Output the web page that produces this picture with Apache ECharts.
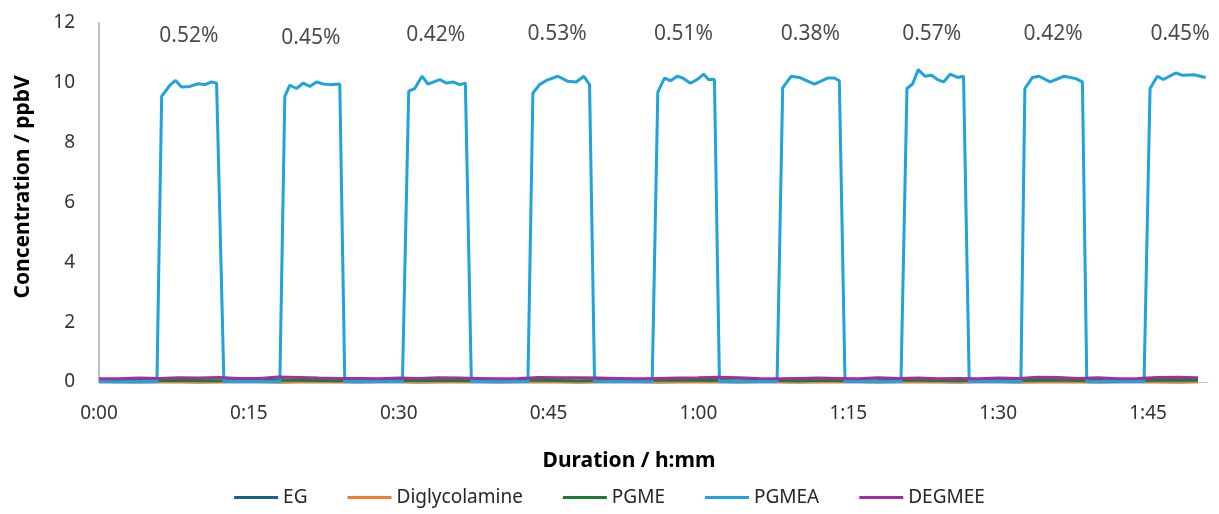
<!DOCTYPE html>
<html>
<head>
<meta charset="utf-8">
<script src="https://cdn.jsdelivr.net/npm/echarts@6/dist/echarts.min.js"></script>
<style>
  html, body { margin: 0; padding: 0; background: #fff; }
  #main { width: 1219px; height: 514px; }
</style>
</head>
<body>
<div id="main"></div>
<script>
// x values are minutes from start
const seriesNames = ['EG', 'Diglycolamine', 'PGME', 'PGMEA', 'DEGMEE']
const xTicks = [0, 15, 30, 45, 60, 75, 90, 105]
const yTicks = [0, 2, 4, 6, 8, 10, 12]

// PGMEA as [minute, ppbV]
const pgmeaPoints = [
  [0, 0.02], [2, 0.01], [4, 0.02], [5.8, 0.02],
  [6.27, 9.55], [7.1, 9.92], [7.67, 10.08], [8.27, 9.86], [9.1, 9.88], [9.93, 9.97], [10.6, 9.94], [11.27, 10.03], [11.77, 9.99], [12.5, 0.02],
  [15, 0.02], [18.1, 0.02],
  [18.6, 9.55], [19.1, 9.92], [19.77, 9.81], [20.43, 9.99], [21.1, 9.88], [21.77, 10.03], [22.43, 9.96], [23.1, 9.94], [24.1, 9.96], [24.6, 0.02],
  [28, 0.02], [30.37, 0.02],
  [31.0, 9.72], [31.6, 9.81], [32.33, 10.22], [32.93, 9.96], [34.1, 10.11], [34.77, 9.99], [35.43, 10.03], [36.1, 9.94], [36.67, 9.99], [37.27, 0.02],
  [40, 0.02], [42.93, 0.02],
  [43.43, 9.66], [44.1, 9.94], [44.77, 10.08], [45.93, 10.22], [46.93, 10.05], [47.77, 10.03], [48.53, 10.22], [49.1, 9.94], [49.6, 0.02],
  [52, 0.02], [55.37, 0.02],
  [55.93, 9.69], [56.6, 10.16], [57.2, 10.07], [57.87, 10.22], [58.43, 10.16], [59.2, 9.99], [59.87, 10.11], [60.53, 10.29], [61.0, 10.11], [61.6, 10.11], [62.1, 0.02],
  [65, 0.02], [67.87, 0.02],
  [68.43, 9.83], [69.27, 10.22], [70.1, 10.18], [71.6, 9.96], [72.93, 10.16], [73.6, 10.16], [74.1, 10.07], [74.67, 0.02],
  [78, 0.02], [80.27, 0.02],
  [80.87, 9.81], [81.43, 9.96], [82.0, 10.44], [82.67, 10.22], [83.33, 10.25], [83.93, 10.11], [84.53, 10.03], [85.2, 10.29], [85.93, 10.18], [86.53, 10.22], [87.1, 0.02],
  [90, 0.02], [92.27, 0.02],
  [92.67, 9.81], [93.43, 10.18], [94.1, 10.22], [95.2, 10.03], [96.6, 10.22], [97.77, 10.14], [98.43, 10.03], [98.87, 0.02],
  [102, 0.02], [104.6, 0.02],
  [105.2, 9.81], [105.93, 10.22], [106.53, 10.11], [107.77, 10.33], [108.43, 10.25], [109.6, 10.27], [110.77, 10.18]
]

// the low series, one reading every 2 minutes (0 .. 110)
const egValues = [0.01, 0.01, 0.0, 0.01, 0.01, 0.0, 0.01, 0.01, 0.01, 0.0, 0.01, 0.01, 0.01, 0.0, 0.01, 0.01, 0.0, 0.01, 0.01, 0.01, 0.0, 0.01, 0.01, 0.01, 0.0, 0.01, 0.01, 0.01, 0.0, 0.01, 0.01, 0.01, 0.0, 0.01, 0.01, 0.0, 0.01, 0.01, 0.01, 0.0, 0.01, 0.01, 0.01, 0.0, 0.01, 0.01, 0.0, 0.01, 0.01, 0.01, 0.0, 0.01, 0.01, 0.01, 0.0, 0.01]
const dgaValues = [0.01, 0.01, 0.01, 0.02, 0.01, 0.01, 0.02, 0.01, 0.01, 0.02, 0.01, 0.01, 0.02, 0.01, 0.01, 0.01, 0.02, 0.01, 0.01, 0.02, 0.01, 0.01, 0.02, 0.01, 0.01, 0.02, 0.01, 0.01, 0.01, 0.02, 0.01, 0.01, 0.02, 0.01, 0.01, 0.02, 0.01, 0.01, 0.01, 0.02, 0.01, 0.01, 0.02, 0.01, 0.01, 0.02, 0.01, 0.01, 0.01, 0.02, 0.01, 0.01, 0.02, 0.01, 0.01, 0.02]
const pgmeValues = [0.04, 0.04, 0.05, 0.05, 0.06, 0.05, 0.04, 0.05, 0.06, 0.07, 0.06, 0.05, 0.04, 0.05, 0.05, 0.06, 0.05, 0.06, 0.05, 0.04, 0.05, 0.06, 0.06, 0.05, 0.04, 0.05, 0.05, 0.05, 0.06, 0.07, 0.06, 0.05, 0.04, 0.05, 0.05, 0.04, 0.06, 0.05, 0.04, 0.05, 0.07, 0.06, 0.05, 0.04, 0.05, 0.06, 0.05, 0.06, 0.07, 0.05, 0.05, 0.04, 0.05, 0.06, 0.07, 0.06]
const degmeeValues = [0.11, 0.11, 0.13, 0.12, 0.14, 0.13, 0.15, 0.12, 0.12, 0.17, 0.15, 0.13, 0.12, 0.12, 0.11, 0.13, 0.12, 0.14, 0.13, 0.12, 0.11, 0.12, 0.15, 0.14, 0.14, 0.13, 0.12, 0.11, 0.12, 0.13, 0.14, 0.16, 0.14, 0.12, 0.11, 0.12, 0.13, 0.12, 0.11, 0.14, 0.12, 0.13, 0.11, 0.12, 0.11, 0.13, 0.12, 0.16, 0.15, 0.12, 0.14, 0.11, 0.12, 0.15, 0.16, 0.14]

// percentage written above each PGMEA pulse
const pulseLabels = ['0.52%', '0.45%', '0.42%', '0.53%', '0.51%', '0.38%', '0.57%', '0.42%', '0.45%']
const labelX = [9.0, 21.2, 33.7, 45.85, 58.5, 71.2, 83.35, 95.5, 108.2]
const labelY = [11.55, 11.5, 11.6, 11.62, 11.62, 11.62, 11.63, 11.62, 11.63]

const colors = ['#1f5f8a', '#ed7d31', '#1e7b34', '#1ea3dc', '#a0309e']

function pairs (values) {
  return values.map((v, i) => [i * 2, v])
}

function hmm (m) {
  const h = Math.floor(m / 60)
  const mm = m % 60
  return h + ':' + (mm < 10 ? '0' + mm : mm)
}

const chart = echarts.init(document.getElementById('main'))

const lineData = [pairs(egValues), pairs(dgaValues), pairs(pgmeValues), pgmeaPoints, pairs(degmeeValues)]

const series = seriesNames.map((name, i) => ({
  name: name,
  type: 'line',
  data: lineData[i],
  showSymbol: false,
  symbol: 'none',
  clip: false,
  lineStyle: { width: 3, color: colors[i] },
  itemStyle: { color: colors[i] }
}))

series.push({
  name: 'labels',
  type: 'scatter',
  symbolSize: 0,
  silent: true,
  data: labelX.map((x, i) => ({ value: [x, labelY[i]], label: { formatter: pulseLabels[i] } })),
  label: {
    show: true,
    position: 'inside',
    color: '#1a1a1a',
    fontSize: 21,
    fontFamily: 'Noto Sans'
  }
})

const option = {
  animation: false,
  textStyle: { fontFamily: 'Noto Sans' },
  grid: { left: 99, right: 11, top: 23, bottom: 132 },
  legend: {
    data: seriesNames,
    bottom: 2,
    left: 'center',
    icon: 'rect',
    itemWidth: 44,
    itemHeight: 3,
    itemGap: 40,
    textStyle: { fontSize: 19, color: '#262626', fontFamily: 'Noto Sans' }
  },
  xAxis: {
    type: 'value',
    min: 0,
    max: 111,
    interval: 15,
    axisLine: { show: true, lineStyle: { color: '#bfbfbf', width: 1 } },
    axisTick: { show: false },
    splitLine: { show: false },
    axisLabel: {
      color: '#333',
      fontSize: 19,
      margin: 22,
      showMaxLabel: false,
      formatter: function (v) { return xTicks.indexOf(v) >= 0 ? hmm(v) : '' }
    }
  },
  yAxis: {
    type: 'value',
    min: yTicks[0],
    max: yTicks[yTicks.length - 1],
    interval: 2,
    axisLine: { show: true, lineStyle: { color: '#bfbfbf', width: 2 } },
    axisTick: { show: false },
    splitLine: { show: false },
    axisLabel: { color: '#333', fontSize: 19, margin: 24 }
  },
  graphic: [
    {
      type: 'text',
      x: 23,
      y: 187,
      rotation: Math.PI / 2,
      style: {
        text: 'Concentration / ppbV',
        fontSize: 21,
        fontWeight: 'bold',
        fontFamily: 'Noto Sans',
        fill: '#000',
        align: 'center',
        verticalAlign: 'middle'
      }
    },
    {
      type: 'text',
      x: 629,
      y: 461,
      style: {
        text: 'Duration / h:mm',
        fontSize: 21,
        fontWeight: 'bold',
        fontFamily: 'Noto Sans',
        fill: '#000',
        align: 'center',
        verticalAlign: 'middle'
      }
    }
  ],
  series: series
}

chart.setOption(option)
</script>
</body>
</html>
